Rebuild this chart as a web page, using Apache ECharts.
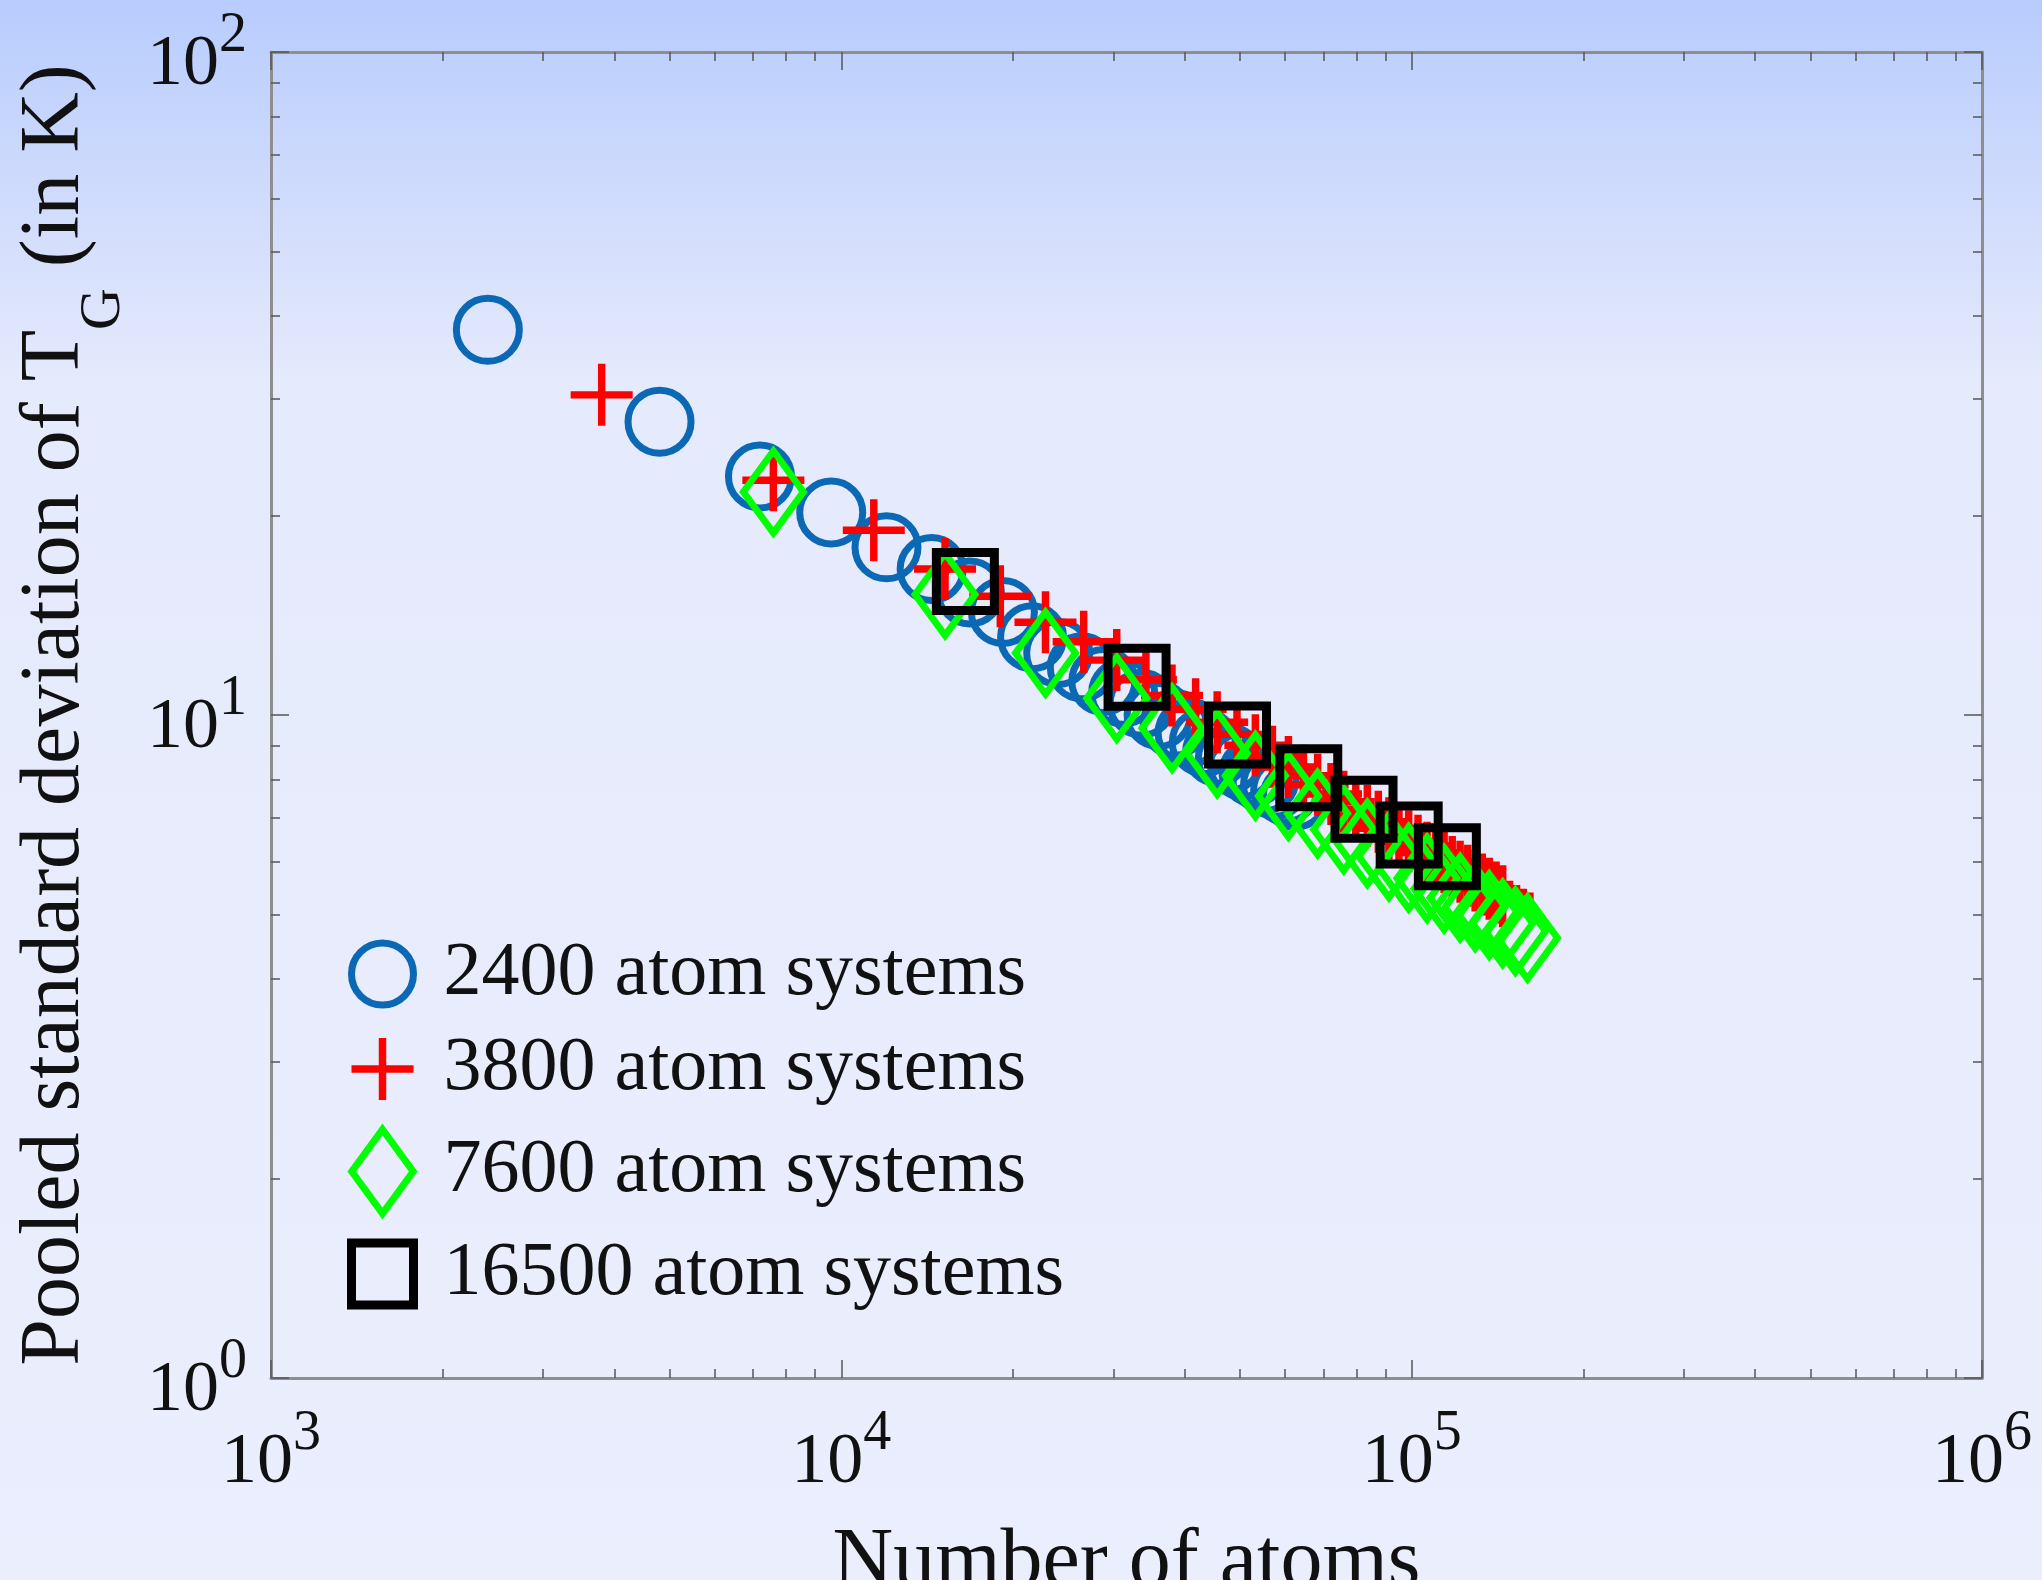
<!DOCTYPE html>
<html>
<head>
<meta charset="utf-8">
<script src="https://cdn.jsdelivr.net/npm/echarts@6/dist/echarts.min.js"></script>
<style>
  html, body { margin: 0; padding: 0; }
  #chart { width: 2042px; height: 1580px; }
</style>
</head>
<body>
<div id="chart"></div>
<script>
// ---- data ----
const blueAtoms = [2400,4800,7200,9600,12000,14400,16800,19200,21600,24000,26400,28800,31200,33600,36000,38400,40800,43200,45600,48000,50400,52800,55200,57600,60000,62400];
const blueSigma = [38.1,27.7,22.9,20.2,17.9,16.6,15.3,14.3,13.1,12.4,11.8,11.25,10.8,10.4,10.0,9.7,9.4,9.1,8.8,8.6,8.4,8.2,8.0,7.85,7.7,7.55];

const redAtoms = [3800,7600,11400,15200,19000,22800,26600,30400,34200,38000,41800,45600,49400,53200,57000,60800,64600,68400,72200,76000,79800,83600,87400,91200,95000,98800,102600,106400,110200,114000,117800,121600,125400,129200,133000,136800,140600,144400];
const redSigma = [30.4,22.6,19.0,16.6,15.1,13.8,12.9,12.1,11.3,10.7,10.2,9.75,9.35,9.0,8.65,8.35,8.1,7.85,7.6,7.4,7.2,7.05,6.9,6.75,6.6,6.45,6.35,6.2,6.1,6.0,5.9,5.8,5.72,5.63,5.55,5.47,5.4,5.33];

const greenAtoms = [7600,15200,22800,30400,38000,45600,53200,60800,68400,76000,83600,91200,98800,106400,114000,121600,129200,136800,144400,152000,159600];
const greenSigma = [21.7,15.2,12.4,10.6,9.55,8.75,8.1,7.55,7.1,6.72,6.4,6.12,5.88,5.67,5.47,5.3,5.13,4.99,4.85,4.72,4.61];

const blackAtoms = [16500,33000,49500,66000,82500,99000,115500];
const blackSigma = [15.9,11.4,9.33,8.04,7.21,6.59,6.11];

const seriesNames = ['2400 atom systems','3800 atom systems','7600 atom systems','16500 atom systems'];

const xMajorTicks = [1e3,1e4,1e5,1e6];
const xMinorTicks = [2e3,3e3,4e3,5e3,6e3,7e3,8e3,9e3,2e4,3e4,4e4,5e4,6e4,7e4,8e4,9e4,2e5,3e5,4e5,5e5,6e5,7e5,8e5,9e5];
const yMajorTicks = [1,10,100];
const yMinorTicks = [2,3,4,5,6,7,8,9,20,30,40,50,60,70,80,90];

const xTitle = 'Number of atoms';
const yTitleMain = 'Pooled standard deviation of T';
const yTitleSub = 'G';
const yTitleEnd = ' (in K)';

// ---- styling ----
const FONT = 'Liberation Serif';
const AXIS_GRAY = '#8e8e8e';
const TICK_COLOR = '#555';
const BLUE = '#0a68b4';
const PLUS_PATH = 'path://M-1.2,-10L1.2,-10L1.2,-1.2L10,-1.2L10,1.2L1.2,1.2L1.2,10L-1.2,10L-1.2,1.2L-10,1.2L-10,-1.2L-1.2,-1.2Z';
const CIRCLE_PATH = 'path://M0,-10A10,10,0,1,1,0,10A10,10,0,1,1,0,-10Z';
const DIAMOND_PATH = 'path://M0,-41L30,0L0,41L-30,0Z';
const SQUARE_PATH = 'path://M-10,-10L10,-10L10,10L-10,10Z';

function zip(a, b) { return a.map((v, i) => [v, b[i]]); }

const tickRich = {
  b: { fontSize: 72, fontFamily: FONT, color: '#111', lineHeight: 93, verticalAlign: 'bottom' },
  s: { fontSize: 56, fontFamily: FONT, color: '#111', lineHeight: 56, verticalAlign: 'top' }
};
function powLabel(v) {
  const e = Math.round(Math.log10(v));
  return '{b|10}{s|' + e + '}';
}

function decoAxis(base, pos, ticks, len, showLine) {
  return Object.assign({}, base, {
    position: pos,
    axisLine: { show: showLine, lineStyle: { color: AXIS_GRAY, width: 3 } },
    axisTick: { show: true, inside: true, length: len, customValues: ticks, lineStyle: { color: TICK_COLOR, width: 1.5 } },
    axisLabel: { show: false },
    splitLine: { show: false },
    minorTick: { show: false }
  });
}

const xBase = { type: 'log', logBase: 10, min: 1e3, max: 1e6, gridIndex: 0 };
const yBase = { type: 'log', logBase: 10, min: 1, max: 100, gridIndex: 0 };

const option = {
  backgroundColor: new echarts.graphic.LinearGradient(0, 0, 0, 1, [
    { offset: 0, color: '#b8ccfd' },
    { offset: 0.24, color: '#e5eafc' },
    { offset: 1, color: '#ebeefd' }
  ]),
  animation: false,
  grid: { left: 271, right: 60, top: 52, bottom: 202, containLabel: false, outerBoundsMode: 'none' },
  legend: {
    orient: 'vertical',
    left: 347,
    top: 936,
    padding: 0,
    itemWidth: 62,
    itemHeight: 84,
    itemGap: 19,
    symbolKeepAspect: true,
    textStyle: { fontSize: 76, fontFamily: FONT, color: '#111', padding: [0, 0, 0, 25] },
    data: [
      { name: seriesNames[0], icon: CIRCLE_PATH, itemStyle: { color: 'rgba(0,0,0,0)', borderColor: BLUE, borderWidth: 7, opacity: 1 } },
      { name: seriesNames[1], icon: PLUS_PATH, itemStyle: { color: '#ff0000', borderWidth: 0, opacity: 1 } },
      { name: seriesNames[2], icon: DIAMOND_PATH, itemStyle: { color: 'rgba(0,0,0,0)', borderColor: '#00ff00', borderWidth: 7, opacity: 1 } },
      { name: seriesNames[3], icon: SQUARE_PATH, itemStyle: { color: 'rgba(0,0,0,0)', borderColor: '#000000', borderWidth: 9, opacity: 1 } }
    ]
  },
  xAxis: [
    Object.assign({}, xBase, {
      position: 'bottom',
      name: xTitle,
      nameLocation: 'middle',
      nameGap: 144,
      nameTextStyle: { fontSize: 84, fontFamily: FONT, color: '#111', lineHeight: 84 },
      axisLine: { show: true, lineStyle: { color: AXIS_GRAY, width: 3 } },
      axisTick: { show: true, inside: true, length: 18, customValues: xMajorTicks, lineStyle: { color: TICK_COLOR, width: 1.5 } },
      axisLabel: { show: true, margin: 28, customValues: xMajorTicks, formatter: powLabel, rich: tickRich, hideOverlap: false },
      splitLine: { show: false },
      minorTick: { show: false }
    }),
    decoAxis(xBase, 'bottom', xMinorTicks, 9, false),
    decoAxis(xBase, 'top', xMajorTicks, 18, true),
    decoAxis(xBase, 'top', xMinorTicks, 9, false)
  ],
  yAxis: [
    Object.assign({}, yBase, {
      position: 'left',
      name: '{b|' + yTitleMain + '}{s|' + yTitleSub + '}{b|' + yTitleEnd + '}',
      nameLocation: 'middle',
      nameGap: 138,
      nameRotate: 90,
      nameTextStyle: {
        rich: {
          b: { fontSize: 84, fontFamily: FONT, color: '#111', lineHeight: 84, verticalAlign: 'top' },
          s: { fontSize: 58, fontFamily: FONT, color: '#111', lineHeight: 119, verticalAlign: 'bottom' }
        }
      },
      axisLine: { show: true, lineStyle: { color: AXIS_GRAY, width: 3 } },
      axisTick: { show: true, inside: true, length: 18, customValues: yMajorTicks, lineStyle: { color: TICK_COLOR, width: 1.5 } },
      axisLabel: { show: true, margin: 24, padding: [6, 0, 0, 0], customValues: yMajorTicks, formatter: powLabel, rich: tickRich, hideOverlap: false },
      splitLine: { show: false },
      minorTick: { show: false }
    }),
    decoAxis(yBase, 'left', yMinorTicks, 9, false),
    decoAxis(yBase, 'right', yMajorTicks, 18, true),
    decoAxis(yBase, 'right', yMinorTicks, 9, false)
  ],
  series: [
    {
      name: seriesNames[0], type: 'scatter', xAxisIndex: 0, yAxisIndex: 0,
      symbol: 'circle', symbolSize: 63,
      itemStyle: { color: 'rgba(0,0,0,0)', borderColor: BLUE, borderWidth: 7, opacity: 1 },
      data: zip(blueAtoms, blueSigma)
    },
    {
      name: seriesNames[1], type: 'scatter', xAxisIndex: 0, yAxisIndex: 0,
      symbol: PLUS_PATH, symbolSize: 62,
      itemStyle: { color: '#ff0000', borderWidth: 0, opacity: 1 },
      data: zip(redAtoms, redSigma)
    },
    {
      name: seriesNames[2], type: 'scatter', xAxisIndex: 0, yAxisIndex: 0,
      symbol: 'diamond', symbolSize: [60, 82],
      itemStyle: { color: 'rgba(0,0,0,0)', borderColor: '#00ff00', borderWidth: 7, opacity: 1 },
      data: zip(greenAtoms, greenSigma)
    },
    {
      name: seriesNames[3], type: 'scatter', xAxisIndex: 0, yAxisIndex: 0,
      symbol: 'rect', symbolSize: 58,
      itemStyle: { color: 'rgba(0,0,0,0)', borderColor: '#000000', borderWidth: 9, opacity: 1 },
      data: zip(blackAtoms, blackSigma)
    }
  ]
};

const chart = echarts.init(document.getElementById('chart'), null, { renderer: 'canvas' });
chart.setOption(option);
</script>
</body>
</html>
